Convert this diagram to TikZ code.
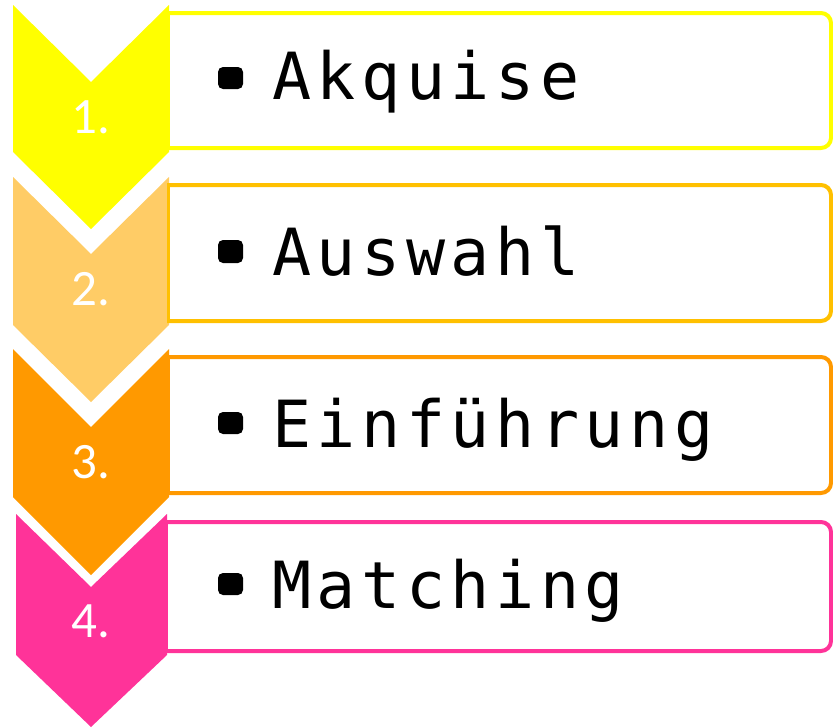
\documentclass[tikz,border=0pt]{standalone}
\usepackage{fontspec}
\setmainfont{Carlito}
\newfontfamily\monofont[LetterSpace=8.5]{DejaVu Sans Mono}
\definecolor{cyel}{HTML}{FFFF00}
\definecolor{cpeach}{HTML}{FFCC66}
\definecolor{cgold}{HTML}{FFC000}
\definecolor{corange}{HTML}{FF9900}
\definecolor{cpink}{HTML}{FF3399}
\tikzset{
  box/.style={line width=4pt, fill=white, rounded corners=10pt},
  num/.style={text=white, font=\fontsize{51}{51}\selectfont, anchor=base, inner sep=0pt},
  item/.style={text=black, font=\monofont\fontsize{65}{65}\selectfont, anchor=base west, inner sep=0pt},
  bul/.style={fill=black, rounded corners=5pt}
}
\begin{document}
\begin{tikzpicture}[x=1pt,y=-1pt]
\useasboundingbox (0,0) rectangle (833,728);
% chevrons
\fill[cyel] (13,5) -- (91,82) -- (169,5) -- (169,152) -- (91,229) -- (13,152) -- cycle;
\fill[cpeach] (13,177) -- (91,254) -- (169,177) -- (169,325) -- (91,402) -- (13,325) -- cycle;
\fill[corange] (13,349) -- (91,427) -- (169,349) -- (169,497) -- (91,575) -- (13,497) -- cycle;
\fill[cpink] (16,514) -- (91,587) -- (167,514) -- (167,655) -- (91,727) -- (16,655) -- cycle;
% boxes
\draw[box, draw=cyel] (167,13) -- (831,13) -- (831,148) -- (167,148);
\draw[box, draw=cgold] (167,185) -- (831,185) -- (831,321) -- (167,321);
\draw[box, draw=corange] (167,357) -- (831,357) -- (831,493) -- (167,493);
\draw[box, draw=cpink] (167,522) -- (831,522) -- (831,651) -- (167,651);
\draw[line width=3pt, cyel] (168,13) -- (168,148);
\draw[line width=3pt, cgold] (168,185) -- (168,321);
\draw[line width=3pt, corange] (168,357) -- (168,493);
\draw[line width=3pt, cpink] (166,522) -- (166,651);
% numbers
\node[num] (n1) at (91,133) {1.};
\node[num] (n2) at (91,305) {2.};
\node[num] (n3) at (91,478) {3.};
\node[num] (n4) at (91,637) {4.};
% bullets
\fill[bul] (218,67) rectangle (243,89);
\fill[bul] (218,240) rectangle (243,263);
\fill[bul] (218,412) rectangle (243,434);
\fill[bul] (218,573) rectangle (243,595);
% items
\node[item] (t1) at (272,99) {Akquise};
\node[item] (t2) at (272,275) {Auswahl};
\node[item] (t3) at (272,447) {Einführung};
\node[item] (t4) at (272,608) {Matching};
\end{tikzpicture}
\end{document}
